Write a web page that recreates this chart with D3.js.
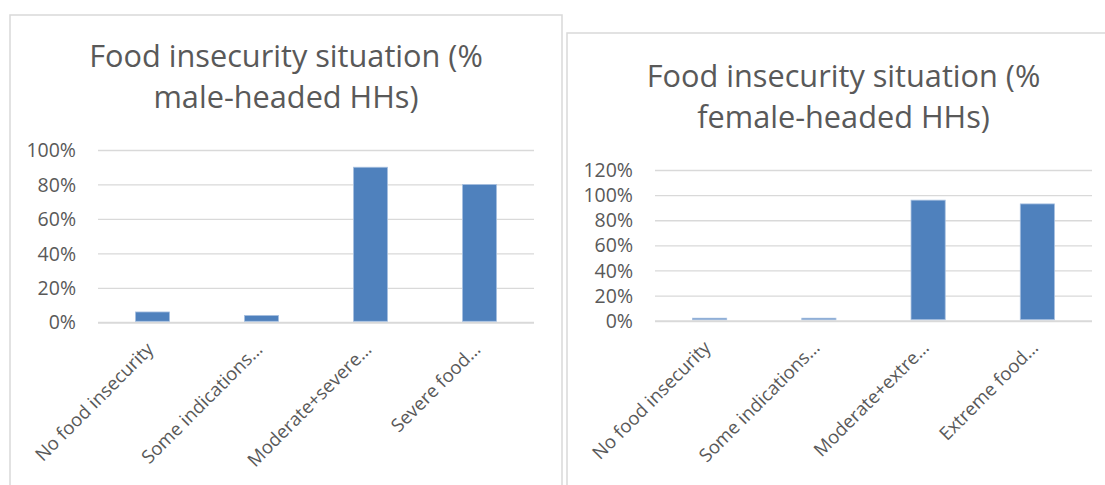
<!DOCTYPE html>
<html>
<head>
<meta charset="utf-8">
<script src="https://cdn.jsdelivr.net/npm/d3@7"></script>
<style>
  body { margin: 0; background: #fff; }
  .axis text { fill: #595959; font-family: "Open Sans", sans-serif; }
  .chart-title { fill: #595959; font-family: "Open Sans", sans-serif; }
</style>
</head>
<body>
<div class="chart-container"></div>
<script>
// Data.
const maleCategories = ["No food insecurity", "Some indications\u2026", "Moderate+severe\u2026", "Severe food\u2026"];
const maleValues = [0.06, 0.04, 0.90, 0.80];
const maleTicks = [0, 0.2, 0.4, 0.6, 0.8, 1.0];

const femaleCategories = ["No food insecurity", "Some indications\u2026", "Moderate+extre\u2026", "Extreme food\u2026"];
const femaleValues = [0.02, 0.02, 0.96, 0.93];
const femaleTicks = [0, 0.2, 0.4, 0.6, 0.8, 1.0, 1.2];

const maleTitle = ["Food insecurity situation (%", "male-headed HHs)"];
const femaleTitle = ["Food insecurity situation (%", "female-headed HHs)"];

const barColor = "#4f81bd";
const gridColor = "#d9d9d9";

const svg = d3
  .select(".chart-container")
  .append("svg")
  .attr("width", 1105)
  .attr("height", 485);

// Draw one panel.
function drawChart(opts) {
  const { box, plot, categories, values, ticks, title, titleY } = opts;

  const panel = svg.append("g").attr("class", "panel");

  // Chart area border.
  panel
    .append("rect")
    .attr("x", box.x)
    .attr("y", box.y)
    .attr("width", box.w)
    .attr("height", box.h)
    .attr("fill", "#fff")
    .attr("stroke", gridColor)
    .attr("stroke-width", 1.5);

  // Title.
  const titleText = panel
    .append("text")
    .attr("class", "chart-title")
    .attr("text-anchor", "middle")
    .attr("x", box.x + box.w / 2)
    .attr("y", titleY)
    .style("font-size", "30.7px");

  title.forEach((line, i) => {
    titleText
      .append("tspan")
      .attr("x", box.x + box.w / 2)
      .attr("dy", i === 0 ? 0 : 41)
      .text(line);
  });

  const width = plot.right - plot.left;
  const height = plot.bottom - plot.top;

  const g = panel
    .append("g")
    .attr("transform", `translate(${plot.left}, ${plot.top})`);

  // Scales.
  const xScale = d3.scaleBand().domain(categories).range([0, width]).paddingInner(0.687).paddingOuter(0.3435);
  const yScale = d3
    .scaleLinear()
    .domain([0, d3.max(ticks)])
    .range([height, 0]);

  // Y axis with gridlines.
  const yAxis = d3
    .axisLeft(yScale)
    .tickValues(ticks)
    .tickFormat(d3.format(".0%"))
    .tickSizeInner(-width)
    .tickSizeOuter(0)
    .tickPadding(22);

  const yAxisDraw = g.append("g").attr("class", "y axis").call(yAxis);
  yAxisDraw.select(".domain").remove();
  yAxisDraw
    .selectAll(".tick line")
    .attr("stroke", gridColor)
    .attr("stroke-width", (d) => (d === 0 ? 2 : 1.3));
  yAxisDraw.selectAll("text").style("font-size", "19.5px").attr("dy", "0.34em");

  // Bars.
  g.append("g")
    .attr("class", "bars")
    .selectAll("rect")
    .data(values)
    .enter()
    .append("rect")
    .attr("x", (d, i) => xScale(categories[i]))
    .attr("y", (d) => yScale(d))
    .attr("width", xScale.bandwidth())
    .attr("height", (d) => height - yScale(d) - 1)
    .attr("fill", barColor)
    .attr("stroke", "#a9c1e0")
    .attr("stroke-width", 0.8);

  // X axis, rotated labels.
  const xAxis = d3.axisBottom(xScale).tickSize(0).tickPadding(0);
  const xAxisDraw = g
    .append("g")
    .attr("class", "x axis")
    .attr("transform", `translate(0, ${height})`)
    .call(xAxis);
  xAxisDraw.select(".domain").remove();
  xAxisDraw
    .selectAll("text")
    .style("font-size", "18.5px")
    .style("text-anchor", "end")
    .attr("dy", "0.7em")
    .attr("transform", "translate(-7, 19) rotate(-45)");
}

drawChart({
  box: { x: 10, y: 15, w: 552, h: 500 },
  plot: { left: 98, right: 534, top: 150, bottom: 322.3 },
  categories: maleCategories,
  values: maleValues,
  ticks: maleTicks,
  title: maleTitle,
  titleY: 67,
});

drawChart({
  box: { x: 567, y: 33, w: 553, h: 500 },
  plot: { left: 655, right: 1092, top: 170, bottom: 320.7 },
  categories: femaleCategories,
  values: femaleValues,
  ticks: femaleTicks,
  title: femaleTitle,
  titleY: 87,
});
</script>
</body>
</html>
